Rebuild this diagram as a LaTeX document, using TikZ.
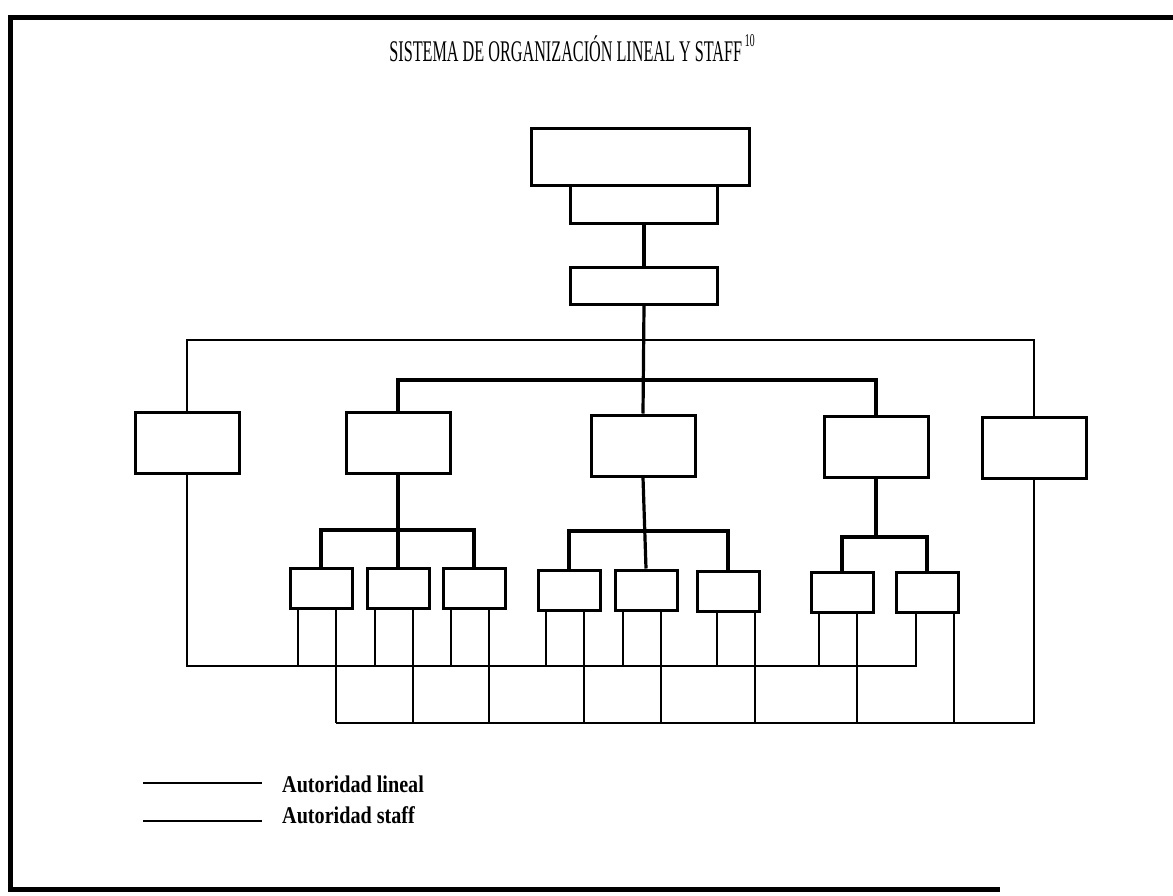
\documentclass[tikz,border=0pt]{standalone}
\usepackage{fontspec}
\usepackage{graphicx}
\setmainfont{Liberation Serif}
\usetikzlibrary{calc}
\begin{document}
\begin{tikzpicture}[x=1pt,y=-1pt,
  orgbox/.style={draw,line width=3pt,inner sep=0pt,anchor=center},
  midbox/.style={orgbox,minimum width=104pt,minimum height=61pt},
  subbox/.style={orgbox,minimum width=62pt,minimum height=40pt},
  lineal/.style={line width=3.2pt},
  staff/.style={line width=1.5pt},
  legendtext/.style={inner sep=0pt,anchor=base west}]
\useasboundingbox (0,0) rectangle (1173,895);

% page frame
\draw[line width=5pt] (1173,17) -- (10,17) -- (10,889) -- (1000,889);

% title
\node[inner sep=0pt] (title) at (572,48)
  {\scalebox{0.54}[1]{\fontsize{30}{30}\selectfont SISTEMA DE ORGANIZACIÓN LINEAL Y STAFF\,\raisebox{0.5em}{\fontsize{18}{18}\selectfont 10}}};

% top of the hierarchy
\node[orgbox,minimum width=147pt,minimum height=38pt] (dirsub) at (644,204) {};
\node[orgbox,minimum width=218pt,minimum height=57pt] (dir) at (640,156.5) {};
\node[orgbox,minimum width=147pt,minimum height=37pt] (ger) at (644,285.5) {};

% second level: staff units at the ends, line units between
\node[midbox] (s1) at (187,442.5) {};
\node[midbox] (l1) at (398,443) {};
\node[midbox] (l2) at (643,445.5) {};
\node[midbox] (l3) at (876,446.5) {};
\node[midbox] (s2) at (1034,447.5) {};

% third level
\node[subbox] (a) at (321,588) {};
\node[subbox] (b) at (398,588) {};
\node[subbox] (c) at (474,588) {};
\node[subbox] (d) at (569,590) {};
\node[subbox] (e) at (646,590) {};
\node[subbox] (f) at (728,591) {};
\node[subbox] (g) at (842,592) {};
\node[subbox] (h) at (927,592) {};

% bus levels
\coordinate (sbus) at (0,340);
\coordinate (lbus) at (0,380);
\coordinate (ga) at (0,530);
\coordinate (gb) at (0,531);
\coordinate (gc) at (0,537);
\coordinate (b1) at (0,666);
\coordinate (b2) at (0,723);

% line authority
\draw[lineal] (dirsub.south) -- (ger.north);
\draw[lineal] (ger.south) -- (l2.north);
\draw[lineal] (l1.north) -- (l1.north |- lbus) -- (l3.north |- lbus) -- (l3.north);
\draw[lineal] (l1.south) -- (b.north);
\draw[lineal] (a.north) -- (a.north |- ga) -- (c.north |- ga) -- (c.north);
\draw[lineal] (l2.south) -- (e.north);
\draw[lineal] (d.north) -- (d.north |- gb) -- (f.north |- gb) -- (f.north);
\draw[lineal] (l3.south) -- (l3.south |- gc);
\draw[lineal] (g.north) -- (g.north |- gc) -- (h.north |- gc) -- (h.north);

% staff authority
\draw[staff] (s1.north) -- (s1.north |- sbus) -- (s2.north |- sbus) -- (s2.north);
\draw[staff] (s1.south) -- (s1.south |- b1) -- ([xshift=-11pt]h.south |- b1) -- ([xshift=-11pt]h.south);
\draw[staff] ([xshift=15pt]a.south |- b2) -- (s2.south |- b2) -- (s2.south);
\foreach \n/\l/\r in {a/-23/15, b/-23/15, c/-23/15, d/-23/15, e/-23/15, f/-11/27, g/-23/15} {
  \draw[staff] ([xshift=\l pt]\n.south) -- ([xshift=\l pt]\n.south |- b1);
  \draw[staff] ([xshift=\r pt]\n.south) -- ([xshift=\r pt]\n.south |- b2);
}
\draw[staff] ([xshift=27pt]h.south) -- ([xshift=27pt]h.south |- b2);

% legend
\coordinate (k1a) at (143,783);
\coordinate (k1b) at (262,783);
\coordinate (k2a) at (143,821);
\coordinate (k2b) at (262,821);
\draw[line width=2.8pt] (k1a) -- (k1b);
\draw[staff] (k2a) -- (k2b);
\node[legendtext] (leg1) at (282,792)
  {\scalebox{0.84}[1]{\fontsize{24}{24}\selectfont\bfseries Autoridad lineal}};
\node[legendtext] (leg2) at (282,823)
  {\scalebox{0.84}[1]{\fontsize{24}{24}\selectfont\bfseries Autoridad staff}};
\end{tikzpicture}
\end{document}
